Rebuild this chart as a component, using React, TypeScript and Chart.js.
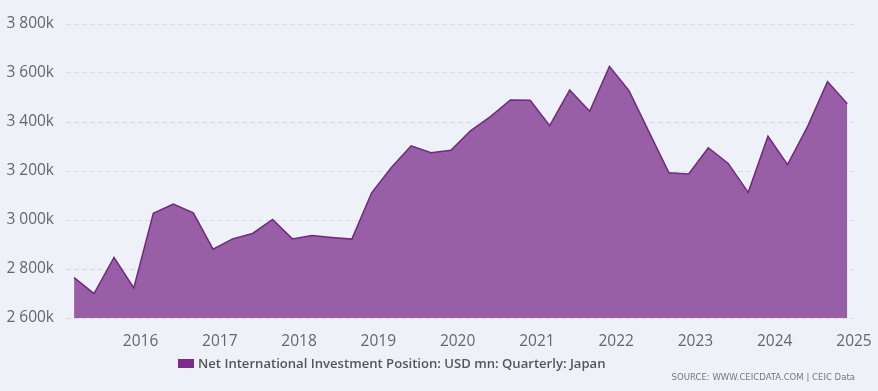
import React, { useEffect, useRef } from "react";
import { Chart, registerables } from "chart.js";

Chart.register(...registerables);

// Quarter dates as fractional years (1st of Mar/Jun/Sep/Dec)
const quarterMonths = [3, 6, 9, 12];
const years = [2015, 2016, 2017, 2018, 2019, 2020, 2021, 2022, 2023, 2024];

// Net International Investment Position, USD mn (in thousands of mn => "k")
const values2015 = [2765, 2700, 2847, 2723];
const values2016 = [3027, 3065, 3029, 2881];
const values2017 = [2923, 2945, 3002, 2923];
const values2018 = [2937, 2929, 2922, 3111];
const values2019 = [3213, 3303, 3275, 3285];
const values2020 = [3364, 3422, 3490, 3489];
const values2021 = [3385, 3531, 3444, 3627];
const values2022 = [3528, 3360, 3193, 3188];
const values2023 = [3295, 3231, 3113, 3342];
const values2024 = [3226, 3381, 3565, 3474];

const yearlyValues = [
  values2015, values2016, values2017, values2018, values2019,
  values2020, values2021, values2022, values2023, values2024,
];

const xTickYears = [2016, 2017, 2018, 2019, 2020, 2021, 2022, 2023, 2024, 2025];
const yTicks = [2600, 2800, 3000, 3200, 3400, 3600, 3800];

const seriesName = "Net International Investment Position: USD mn: Quarterly: Japan";
const sourceText = "SOURCE: WWW.CEICDATA.COM | CEIC Data";

const cumDays = [0, 31, 59, 90, 120, 151, 181, 212, 243, 273, 304, 334];

function buildPoints() {
  const pts: { x: number; y: number }[] = [];
  years.forEach((yr, i) => {
    quarterMonths.forEach((m, q) => {
      pts.push({ x: yr + cumDays[m - 1] / 365, y: yearlyValues[i][q] });
    });
  });
  return pts;
}

function fmtK(v: number) {
  const th = Math.floor(v / 1000);
  const rest = String(Math.round(v % 1000)).padStart(3, "0");
  return th + " " + rest + "k";
}

export default function App() {
  const ref = useRef<HTMLCanvasElement | null>(null);

  useEffect(() => {
    if (!ref.current) return;
    const chart = new Chart(ref.current, {
      type: "line",
      data: {
        datasets: [
          {
            label: seriesName,
            data: buildPoints(),
            borderColor: "#6e2a7e",
            borderWidth: 1.5,
            backgroundColor: "rgba(123,45,139,0.75)",
            fill: "start",
            pointRadius: 0,
            tension: 0,
          },
        ],
      },
      options: {
        animation: false,
        responsive: false,
        maintainAspectRatio: false,
        layout: { padding: { top: 24, right: 24, bottom: 0, left: 0 } },
        plugins: { legend: { display: false }, tooltip: { enabled: false } },
        scales: {
          x: {
            type: "linear",
            min: 2015.06,
            max: 2025.0,
            grid: { display: false },
            border: { display: false },
            afterBuildTicks: (s: any) => {
              s.ticks = xTickYears.map((v) => ({ value: v }));
            },
            afterFit: (s: any) => {
              s.height = 73;
            },
            ticks: {
              autoSkip: false,
              maxRotation: 0,
              padding: 6,
              color: "#666666",
              font: { family: "'Open Sans', sans-serif", size: 15.5 },
              callback: (v: any) => String(v),
            },
          },
          y: {
            min: 2600,
            max: 3800,
            grid: {
              color: "#d8dce4",
              lineWidth: 1,
              drawTicks: false,
            },
            border: { display: false, dash: [5, 3] },
            afterBuildTicks: (s: any) => {
              s.ticks = yTicks.map((v) => ({ value: v }));
            },
            afterFit: (s: any) => {
              s.width = 66;
            },
            ticks: {
              padding: 12,
              color: "#666666",
              font: { family: "'Open Sans', sans-serif", size: 15.5 },
              callback: (v: any) => fmtK(Number(v)),
            },
          },
        },
      },
    });
    return () => chart.destroy();
  }, []);

  return (
    <div
      style={{
        position: "fixed",
        left: 0,
        top: 0,
        width: 878,
        height: 391,
        background: "#eef2f8",
        overflow: "hidden",
      }}
    >
      <canvas ref={ref} width={878} height={391} style={{ display: "block" }} />
      <div
        style={{
          position: "absolute",
          left: 178,
          top: 353,
          height: 20,
          display: "flex",
          alignItems: "center",
          fontFamily: "'Open Sans', sans-serif",
          fontWeight: 600,
          fontSize: 13.1,
          color: "#555555",
          whiteSpace: "nowrap",
        }}
      >
        <span
          style={{
            display: "inline-block",
            width: 16,
            height: 9,
            background: "#7b2d8b",
            marginRight: 4,
          }}
        />
        <span>{seriesName}</span>
      </div>
      <div
        style={{
          position: "absolute",
          right: 23,
          top: 371,
          fontFamily: "'DejaVu Sans Condensed', sans-serif",
          fontSize: 9.5,
          color: "#777777",
          whiteSpace: "nowrap",
        }}
      >
        {sourceText}
      </div>
    </div>
  );
}
